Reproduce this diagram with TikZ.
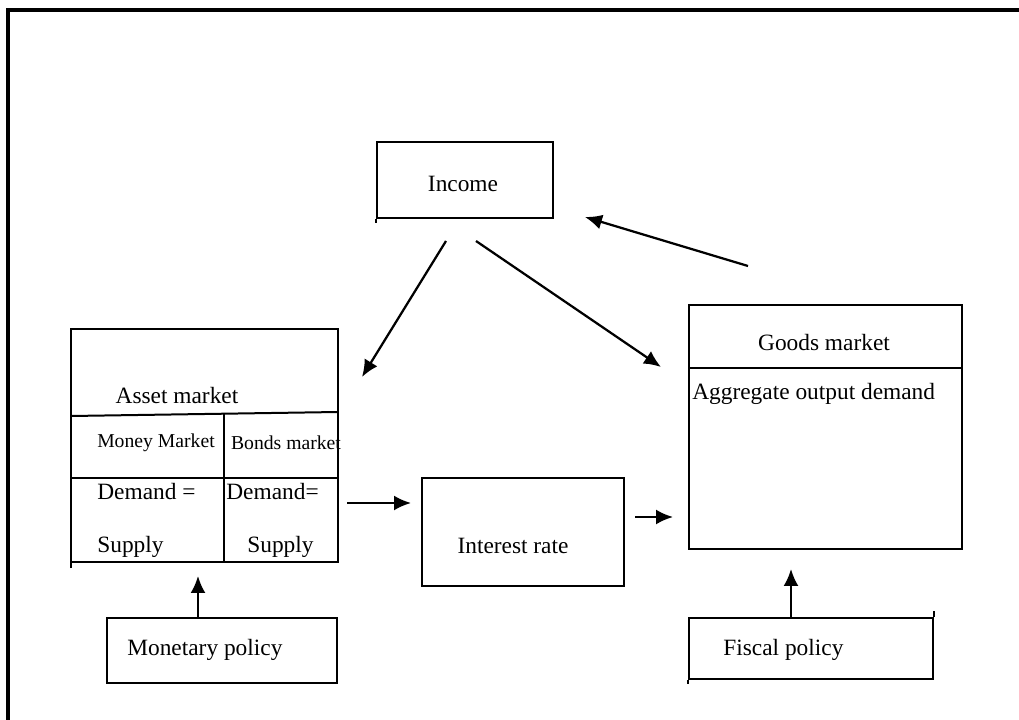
\documentclass[tikz,border=0pt]{standalone}
\usepackage{fontspec}
\setmainfont{Liberation Serif}
\usetikzlibrary{arrows.meta}

\tikzset{
	box/.style={draw, line width=0.04cm, inner sep=0pt},
	lbl/.style={inner sep=0pt, font=\fontsize{13.3}{15}\selectfont},
	small/.style={inner sep=0pt, font=\fontsize{11.2}{13}\selectfont},
	link/.style={line width=0.045cm, -{Latex[length=0.34cm,width=0.3cm]}}
}

\begin{document}
\begin{tikzpicture}[x=0.02cm, y=-0.02cm]
		%%%%% START %%%%%
		\useasboundingbox (0, 0) rectangle (1019, 720);
		
		\draw[line width=0.08cm] (8, 720) -- (8, 10) -- (1019, 10);
		
		% income
		\node[box, minimum width=3.52cm, minimum height=1.52cm] (income) at (465, 180) {};
		\node[lbl] (income-txt) at (463, 184) {Income};
		\draw[line width=0.04cm] (income.south west) -- ++(0, 4);
		
		% asset market
		\draw[line width=0.04cm] (71, 568) -- (71, 329) -- (338, 329) -- (338, 562) -- (71, 562);
		\draw[line width=0.04cm] (71, 416) -- (338, 412);
		\draw[line width=0.04cm] (71, 478) -- (338, 478);
		\draw[line width=0.04cm] (224, 414) -- (224, 562);
		\node[inner sep=0pt, minimum width=5.34cm, minimum height=4.66cm] (asset) at (204.5, 445.5) {};
		\node[lbl] (asset-txt) at (177, 396) {Asset market};
		\node[small] (money) at (156, 443) {Money Market};
		\node[small] (bonds) at (286, 443) {Bonds market};
		\node[lbl, anchor=west] (dem-l) at (97, 492) {Demand =};
		\node[lbl, anchor=west] (dem-r) at (226, 492) {Demand=};
		\node[lbl, anchor=west] (sup-l) at (97, 547) {Supply};
		\node[lbl, anchor=west] (sup-r) at (247, 547) {Supply};
		
		% interest rate
		\node[box, minimum width=4.04cm, minimum height=2.16cm] (rate) at (523, 532) {};
		\node[lbl] (rate-txt) at (513, 546) {Interest rate};
		
		% goods market
		\node[box, minimum width=5.46cm, minimum height=4.88cm] (goods) at (825.5, 427) {};
		\draw[line width=0.04cm] (689, 368) -- (962, 368);
		\node[lbl] (goods-txt) at (824, 343) {Goods market};
		\node[lbl, anchor=west] (agg) at (692, 394) {Aggregate output demand};
		
		% policies
		\node[box, minimum width=4.6cm, minimum height=1.3cm] (monetary) at (222, 650.5) {};
		\node[lbl, anchor=west] (monetary-txt) at (127, 650) {Monetary policy};
		\node[box, minimum width=4.88cm, minimum height=1.22cm] (fiscal) at (811, 648.5) {};
		\node[lbl, anchor=west] (fiscal-txt) at (723, 650) {Fiscal policy};
		\draw[line width=0.04cm] (fiscal.north east) -- ++(0, -6);
		\draw[line width=0.04cm] (fiscal.south west) -- ++(0, 4);
		
		% arrow ends
		\coordinate (inc-a) at (446, 241);
		\coordinate (inc-b) at (476, 241);
		\coordinate (inc-c) at (585, 217);
		\coordinate (asset-in) at (362, 377);
		\coordinate (goods-in) at (661, 367);
		\coordinate (goods-out) at (748, 266);
		\coordinate (asset-out) at (347, 503);
		\coordinate (rate-in) at (411, 503);
		\coordinate (rate-out) at (635, 517);
		\coordinate (goods-left) at (673, 517);
		\coordinate (asset-up) at (198, 576);
		\coordinate (goods-up) at (791, 569);
		
		\draw[link] (inc-a) -- (asset-in);
		\draw[link] (inc-b) -- (goods-in);
		\draw[link] (goods-out) -- (inc-c);
		\draw[link] (asset-out) -- (rate-in);
		\draw[link] (rate-out) -- (goods-left);
		\draw[link] (monetary.north -| asset-up) -- (asset-up);
		\draw[link] (fiscal.north -| goods-up) -- (goods-up);
		
		%%%%% END %%%%%
	\end{tikzpicture}
\end{document}
